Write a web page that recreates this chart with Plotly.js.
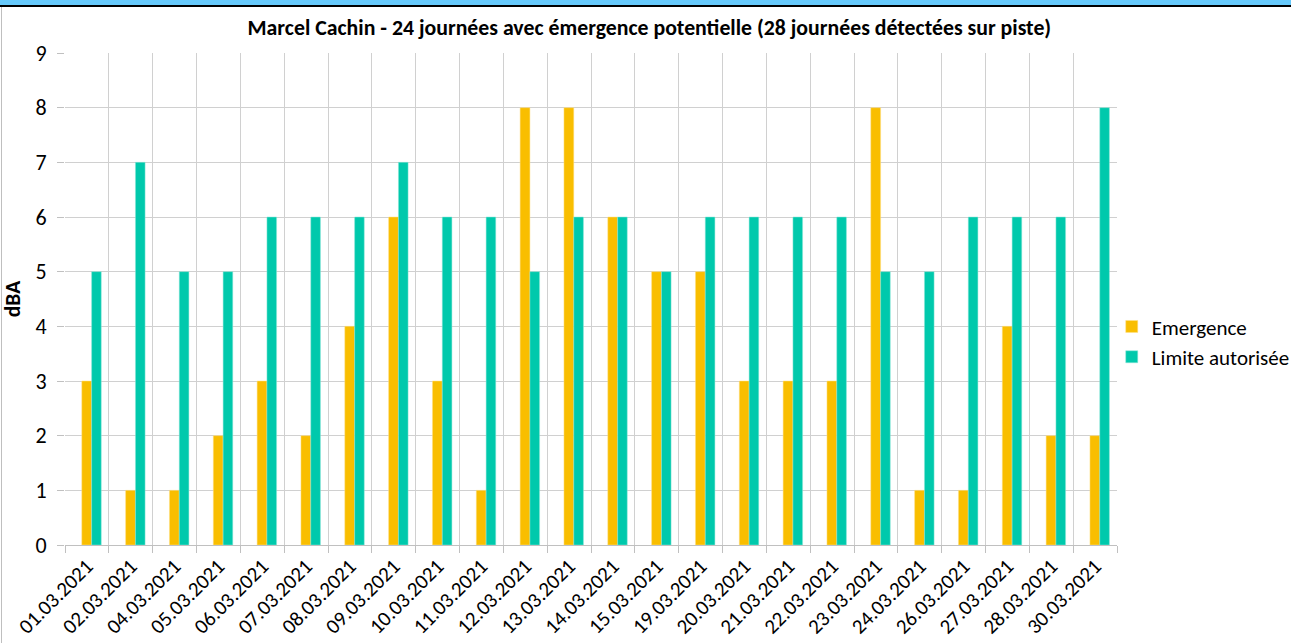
<!DOCTYPE html>
<html>
<head>
<meta charset="utf-8">
<script src="https://cdn.plot.ly/plotly-3.0.1.min.js"></script>
<style>
html,body{margin:0;padding:0;background:#fff;}
#wrap{position:relative;width:1291px;height:643px;overflow:hidden;}
#chart{width:1291px;height:643px;}
#band{position:absolute;left:0;top:0;width:1291px;height:5px;background:#66C9FB;border-bottom:2px solid #000;}
#lb{position:absolute;left:1px;top:7px;width:1px;height:636px;background:#bfbfbf;}
</style>
</head>
<body>
<div id="wrap">
<div id="chart"></div>
<div id="band"></div>
<div id="lb"></div>
</div>
<script>
const categories = ["01.03.2021","02.03.2021","04.03.2021","05.03.2021","06.03.2021","07.03.2021","08.03.2021","09.03.2021","10.03.2021","11.03.2021","12.03.2021","13.03.2021","14.03.2021","15.03.2021","19.03.2021","20.03.2021","21.03.2021","22.03.2021","23.03.2021","24.03.2021","26.03.2021","27.03.2021","28.03.2021","30.03.2021"];
const emergence = [3,1,1,2,3,2,4,6,3,1,8,8,6,5,5,3,3,3,8,1,1,4,2,2];
const limite = [5,7,5,5,6,6,6,7,6,6,5,6,6,5,6,6,6,6,5,5,6,6,6,8];
const yTicks = [0,1,2,3,4,5,6,7,8,9];

const font = "Calibri, Carlito, 'Open Sans', 'Liberation Sans', sans-serif";
const traces = [
  {type:"bar", name:"Emergence", x:categories, y:emergence, width:0.224, offset:-0.117,
   marker:{color:"#F9BE00", line:{color:"#FFE08A", width:0.5}}},
  {type:"bar", name:"Limite autorisée", x:categories, y:limite, width:0.22, offset:0.107,
   marker:{color:"#00C9AC", line:{color:"#8FE6D8", width:0.5}}}
];
const layout = {
  width:1291, height:643,
  paper_bgcolor:"#fff", plot_bgcolor:"#fff",
  margin:{l:65, r:174, t:53, b:98, autoexpand:false},
  barmode:"overlay",
  title:{text:"Marcel Cachin - 24 journées avec émergence potentielle (28 journées détectées sur piste)",
    font:{family:font, size:21.8, color:"#000", weight:"bold"}, x:0.503, xref:"container", y:0.958, yref:"container", yanchor:"middle"},
  font:{family:font, color:"#000"},
  xaxis:{type:"category", tickson:"boundaries", showgrid:true, gridcolor:"#d0d0d0", gridwidth:1,
    ticks:"outside", ticklen:7, tickcolor:"#c0c0c0", tickangle:-45, automargin:false,
    tickfont:{family:font, size:20.8, color:"#000"},
    showline:true, linecolor:"#c0c0c0", linewidth:1, mirror:false, zeroline:false},
  yaxis:{range:[0,9], tickvals:yTicks, ticktext:yTicks.map(String), showgrid:true, gridcolor:"#d0d0d0", gridwidth:1,
    ticks:"outside", ticklen:7, tickcolor:"#c0c0c0", automargin:false,
    tickfont:{family:font, size:22, color:"#000"}, ticklabelstandoff:6,
    zeroline:false, showline:false,
    title:{text:"dBA", font:{family:font, size:21.5, color:"#000", weight:"bold"}, standoff:20}},
  legend:{x:0.995, xanchor:"left", xref:"paper", y:0.413, yanchor:"middle", font:{family:font, size:21, color:"#000"},
    bgcolor:"rgba(0,0,0,0)", itemwidth:30, tracegroupgap:2},
  showlegend:true
};
Plotly.newPlot("chart", traces, layout, {displayModeBar:false, staticPlot:true});
</script>
</body>
</html>
